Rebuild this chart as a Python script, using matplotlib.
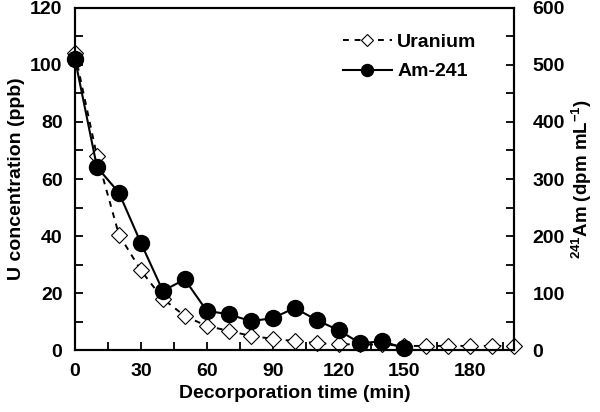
import matplotlib
matplotlib.use("Agg")
import matplotlib.pyplot as plt
from matplotlib.ticker import MultipleLocator

plt.rcParams['font.family'] = ['Liberation Sans', 'DejaVu Sans']
plt.rcParams['font.weight'] = 'bold'
plt.rcParams['mathtext.fontset'] = 'custom'
plt.rcParams['mathtext.rm'] = 'Liberation Sans:bold'
plt.rcParams['mathtext.bf'] = 'Liberation Sans:bold'
plt.rcParams['mathtext.default'] = 'bf'

time_u = [0, 10, 20, 30, 40, 50, 60, 70, 80, 90, 100, 110, 120, 130, 140, 150, 160, 170, 180, 190, 200]
uranium = [104, 68, 40.5, 28, 18, 12, 8.5, 6.8, 5, 4, 3.2, 2.5, 2.1, 2, 2, 1.5, 1.5, 1.5, 1.5, 1.5, 1.5]
time_am = [0, 10, 20, 30, 40, 50, 60, 70, 80, 90, 100, 110, 120, 130, 140, 150]
am241 = [510, 321, 276, 188, 104, 124, 69, 63, 51, 56, 74, 53, 35, 12, 16, 3]

fig = plt.figure(figsize=(6, 4.12), dpi=100)
ax = fig.add_axes([0.125, 0.150, 0.732, 0.831])
ax2 = ax.twinx()

lu, = ax.plot(time_u, uranium, linestyle=(0, (3, 3)), color='black', lw=1.4,
              marker='D', markersize=8, markerfacecolor='white', markeredgecolor='black',
              markeredgewidth=0.8, label='Uranium', zorder=2, clip_on=False)
la, = ax2.plot(time_am, am241, linestyle='-', color='black', lw=1.5,
               marker='o', markersize=11.5, markerfacecolor='black', markeredgecolor='black',
               label='Am-241', zorder=3, clip_on=False)

ax.set_xlim(0, 200)
ax.set_ylim(0, 120)
ax2.set_ylim(0, 600)
ax.xaxis.set_major_locator(MultipleLocator(30))
ax.xaxis.set_minor_locator(MultipleLocator(15))
ax.yaxis.set_major_locator(MultipleLocator(20))
ax.yaxis.set_minor_locator(MultipleLocator(10))
ax2.yaxis.set_major_locator(MultipleLocator(100))
ax2.yaxis.set_minor_locator(MultipleLocator(50))

for a in (ax, ax2):
    for s in a.spines.values():
        s.set_linewidth(1.5)
ax.tick_params(axis='both', which='both', direction='in', labelsize=14, width=1.3, length=6)
ax.tick_params(axis='x', which='both', pad=9, top=False)
ax.tick_params(axis='y', which='both', pad=9, right=False)
ax2.tick_params(axis='y', which='both', direction='in', labelsize=14, width=1.3, length=6, pad=13)

ax.set_xlabel('Decorporation time (min)', fontsize=14, fontweight='bold', labelpad=4)
ax.set_ylabel('U concentration (ppb)', fontsize=14, fontweight='bold', labelpad=4)
ax2.set_ylabel(r'$^{241}$Am (dpm mL$^{-1}$)', fontsize=13.5, fontweight='bold', labelpad=4)

ax.legend(handles=[lu, la], loc='upper left', bbox_to_anchor=(0.61, 0.925), frameon=False,
          handlelength=2.5, handletextpad=0.3, labelspacing=0.6, borderpad=0, borderaxespad=0,
          prop={'weight': 'bold', 'size': 14}, markerscale=0.75)

fig.savefig('out.png', dpi=100)
